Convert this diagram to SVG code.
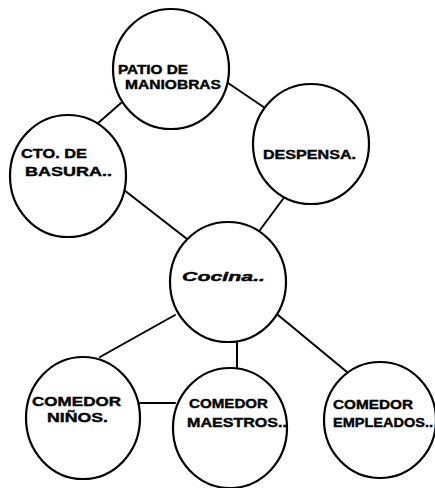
<svg xmlns="http://www.w3.org/2000/svg" width="435" height="488" viewBox="0 0 435 488">
  <style>
    .edge { stroke: #000; stroke-width: 2; fill: none; stroke-linecap: round; }
    .node ellipse { fill: #fff; stroke: #000; stroke-width: 2.2; }
    .node text { font-family: "Liberation Sans", Arial, sans-serif; font-weight: bold; font-size: 13px; fill: #000; stroke: #000; stroke-width: 0.4; }
  </style>
  <rect width="435" height="488" fill="#fff"/>
  <g id="connectors">
    <line class="edge" x1="121" y1="103" x2="97" y2="124"/>
    <line class="edge" x1="228" y1="83" x2="265" y2="108"/>
    <line class="edge" x1="124" y1="190" x2="187" y2="239"/>
    <line class="edge" x1="283" y1="199" x2="260" y2="230"/>
    <line class="edge" x1="175" y1="315" x2="100" y2="357"/>
    <line class="edge" x1="237" y1="340" x2="237" y2="368"/>
    <line class="edge" x1="278" y1="315" x2="347" y2="372"/>
    <line class="edge" x1="140" y1="403" x2="175" y2="403"/>
  </g>
  <g id="patio" class="node">
    <ellipse cx="171" cy="69" rx="58" ry="60"/>
    <text x="118" y="74" textLength="70" lengthAdjust="spacingAndGlyphs">PATIO DE</text>
    <text x="125" y="89" textLength="96" lengthAdjust="spacingAndGlyphs">MANIOBRAS</text>
  </g>
  <g id="basura" class="node">
    <ellipse cx="68" cy="176" rx="58" ry="61"/>
    <text x="21" y="158" textLength="66" lengthAdjust="spacingAndGlyphs">CTO. DE</text>
    <text x="25" y="176" textLength="87" lengthAdjust="spacingAndGlyphs">BASURA..</text>
  </g>
  <g id="despensa" class="node">
    <ellipse cx="311" cy="144" rx="58" ry="60"/>
    <text x="263" y="159" textLength="93" lengthAdjust="spacingAndGlyphs">DESPENSA.</text>
  </g>
  <g id="cocina" class="node">
    <ellipse cx="228" cy="282" rx="58" ry="60"/>
    <text x="182" y="281" textLength="83" lengthAdjust="spacingAndGlyphs" font-style="italic" font-size="14">Cocina..</text>
  </g>
  <g id="ninos" class="node">
    <ellipse cx="83" cy="418" rx="57" ry="61"/>
    <text x="32" y="406" textLength="89" lengthAdjust="spacingAndGlyphs">COMEDOR</text>
    <text x="47" y="422" textLength="61" lengthAdjust="spacingAndGlyphs">NIÑOS.</text>
  </g>
  <g id="maestros" class="node">
    <ellipse cx="230" cy="428" rx="57" ry="60"/>
    <text x="189" y="408" textLength="79" lengthAdjust="spacingAndGlyphs">COMEDOR</text>
    <text x="187" y="427" textLength="100" lengthAdjust="spacingAndGlyphs">MAESTROS..</text>
  </g>
  <g id="empleados" class="node">
    <ellipse cx="380" cy="420" rx="56" ry="58"/>
    <text x="333" y="409" textLength="80" lengthAdjust="spacingAndGlyphs">COMEDOR</text>
    <text x="333" y="427" textLength="100" lengthAdjust="spacingAndGlyphs">EMPLEADOS..</text>
  </g>
</svg>
